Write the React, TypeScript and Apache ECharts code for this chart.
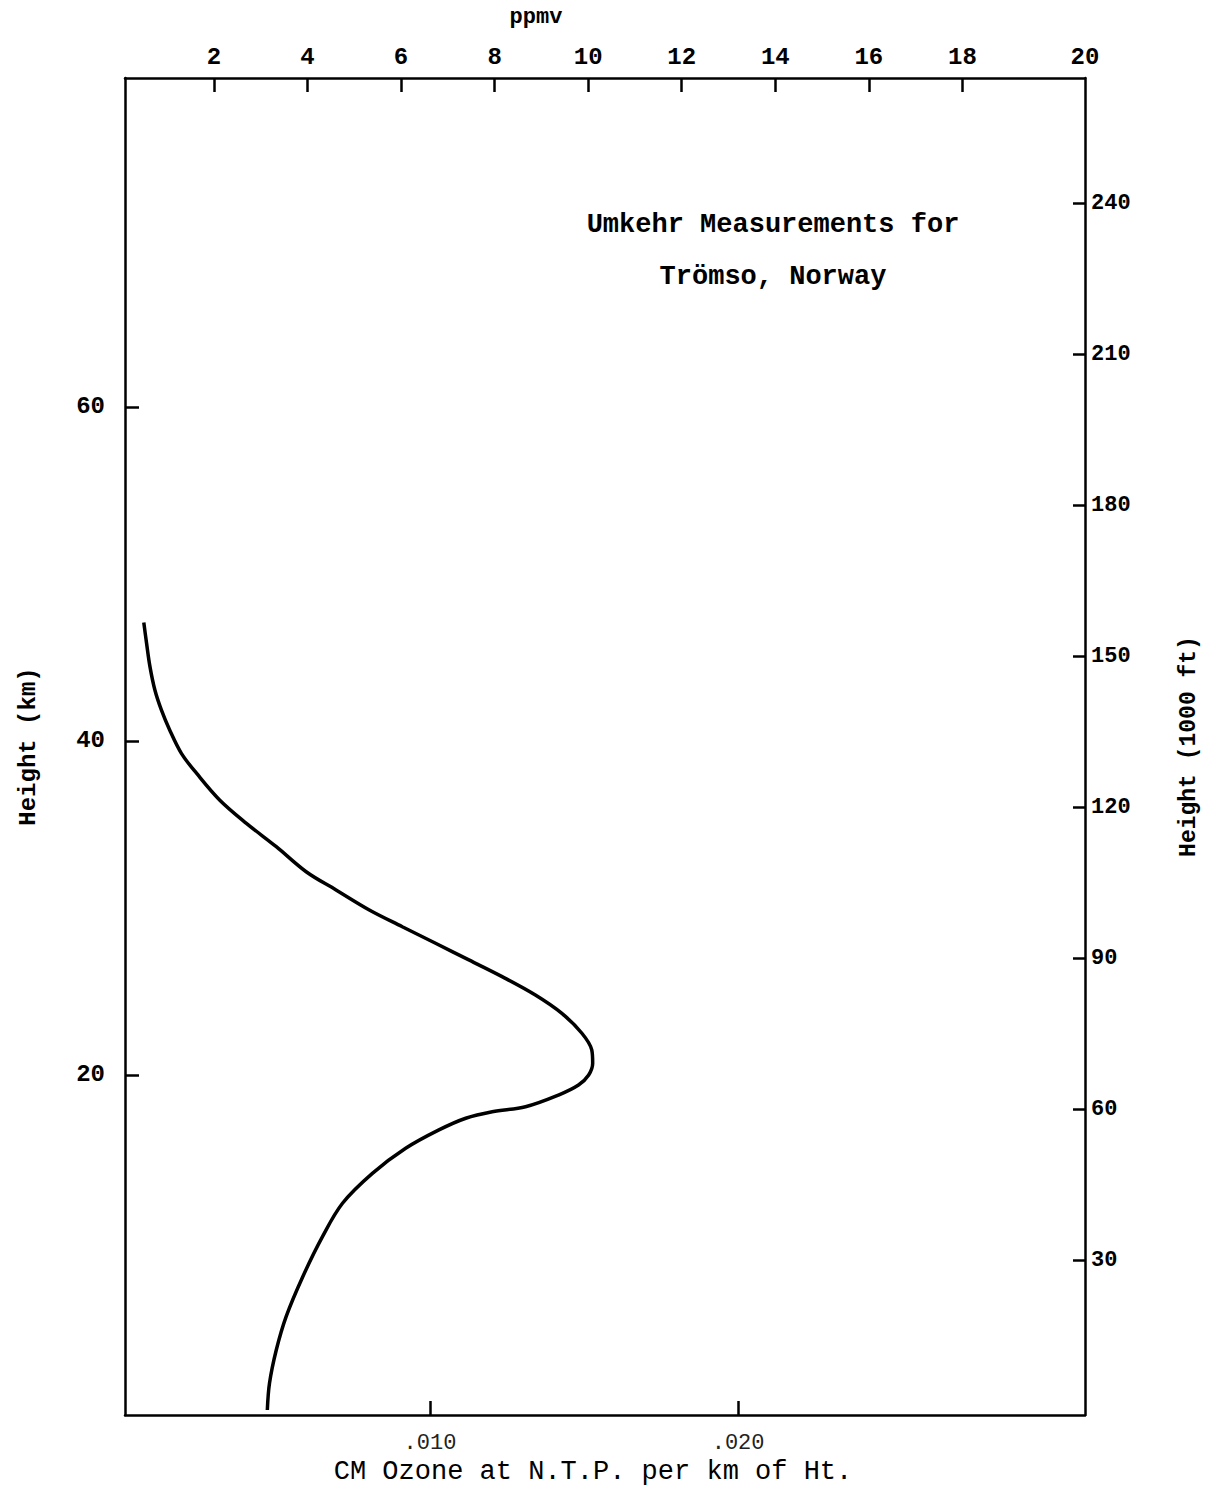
import React, { useEffect, useRef } from "react";
import * as echarts from "echarts";

// Curve: ozone (cm at NTP per km) vs height (km)
const heightKm = [47.1, 45.85, 44.45, 43.05, 41.86, 40.66, 39.26, 38.07, 36.47, 35.07, 33.67, 32.17, 31.08, 29.88, 28.88, 27.89, 26.89, 25.89, 24.79, 23.69, 22.5, 21.5, 20.7, 20.0, 19.4, 18.8, 18.1, 17.8, 17.41, 16.71, 15.61, 14.11, 12.32, 10.32, 7.92, 5.53, 3.53, 1.54, -0.06];
const ozoneCm = [0.00071, 0.0008, 0.00091, 0.00107, 0.00128, 0.00155, 0.00193, 0.00242, 0.00317, 0.00404, 0.00501, 0.00598, 0.00695, 0.00803, 0.0091, 0.01018, 0.01126, 0.01234, 0.01342, 0.01428, 0.01493, 0.01525, 0.01528, 0.01515, 0.01482, 0.01417, 0.0131, 0.01202, 0.01116, 0.01029, 0.00921, 0.00813, 0.00716, 0.00651, 0.00587, 0.00533, 0.00501, 0.00479, 0.00472];

// Tick values and labels
const kmTicks = [20, 40, 60];
const kftTicks = [30, 60, 90, 120, 150, 180, 210, 240];
const ppmvTicks = [2, 4, 6, 8, 10, 12, 14, 16, 18];
const ppmvEndLabel = "20";
const ozoneTicks = [0.01, 0.02];
const ozoneTickLabels = [".010", ".020"];

// Axis ranges
const KM_MIN = -0.36;
const KM_MAX = 79.7;
const KFT_MIN = -0.8;
const KFT_MAX = 264.9;
const OZ_MIN = 0.0001;
const OZ_MAX = 0.03126;
const PPMV_MIN = 0.1;
const PPMV_MAX = 20.62;

const FONT = "Liberation Mono";

export default function App() {
  const ref = useRef<HTMLDivElement>(null);

  useEffect(() => {
    if (!ref.current) return;
    const chart = echarts.init(ref.current, null, { renderer: "svg" });
    const axisLine = { show: true, onZero: false, lineStyle: { color: "#000", width: 2.5 } };
    const tickStyle = { color: "#000", width: 2.5 };
    const labelBase = { color: "#000", fontFamily: FONT, fontWeight: "bold" as const, fontSize: 24 };

    const option: any = {
      animation: false,
      backgroundColor: "#fff",
      title: {
        text: "Umkehr Measurements for\nTrömso, Norway",
        left: 768,
        top: 194,
        textAlign: "center",
        textStyle: {
          color: "#000",
          fontFamily: FONT,
          fontWeight: "bold",
          fontSize: 27,
          lineHeight: 52,
          align: "center",
        },
      },
      grid: { left: 125, right: 120, top: 78, bottom: 86, containLabel: false },
      xAxis: [
        {
          type: "value",
          position: "bottom",
          min: OZ_MIN,
          max: OZ_MAX,
          axisLine,
          axisTick: { show: true, inside: true, length: 14, customValues: ozoneTicks, lineStyle: tickStyle },
          axisLabel: {
            customValues: ozoneTicks,
            margin: 17,
            color: "#222",
            fontFamily: FONT,
            fontSize: 22,
            formatter: (v: number) => {
              let best = 0;
              ozoneTicks.forEach((t, i) => {
                if (Math.abs(t - v) < Math.abs(ozoneTicks[best] - v)) best = i;
              });
              return ozoneTickLabels[best];
            },
          },
          splitLine: { show: false },
          name: "CM Ozone at N.T.P. per km of Ht.",
          nameLocation: "middle",
          nameGap: 42,
          nameTextStyle: { color: "#000", fontFamily: FONT, fontSize: 27, padding: [0, 24, 0, 0] },
        },
        {
          type: "value",
          position: "top",
          min: PPMV_MIN,
          max: PPMV_MAX,
          axisLine,
          axisTick: { show: true, inside: true, length: 14, customValues: ppmvTicks, lineStyle: tickStyle },
          axisLabel: {
            ...labelBase,
            customValues: [...ppmvTicks, PPMV_MAX],
            margin: 9,
            formatter: (v: number) => (v > 19 ? ppmvEndLabel : String(v)),
          },
          splitLine: { show: false },
          name: "ppmv",
          nameLocation: "middle",
          nameGap: 50,
          nameTextStyle: { ...labelBase, fontSize: 22, padding: [0, 138, 0, 0] },
        },
      ],
      yAxis: [
        {
          type: "value",
          position: "left",
          min: KM_MIN,
          max: KM_MAX,
          axisLine,
          axisTick: { show: true, inside: true, length: 14, customValues: kmTicks, lineStyle: tickStyle },
          axisLabel: { ...labelBase, fontSize: 24, customValues: kmTicks, margin: 20 },
          splitLine: { show: false },
          name: "Height (km)",
          nameLocation: "middle",
          nameRotate: 90,
          nameGap: 85,
          nameTextStyle: { ...labelBase, fontSize: 24 },
        },
        {
          type: "value",
          position: "right",
          min: KFT_MIN,
          max: KFT_MAX,
          axisLine,
          axisTick: { show: true, inside: true, length: 12, customValues: kftTicks, lineStyle: tickStyle },
          axisLabel: { ...labelBase, fontSize: 22, customValues: kftTicks, margin: 6 },
          splitLine: { show: false },
          name: "Height (1000 ft)",
          nameLocation: "middle",
          nameRotate: 90,
          nameGap: 92,
          nameTextStyle: { ...labelBase, fontSize: 23 },
        },
      ],
      series: [
        {
          type: "line",
          xAxisIndex: 0,
          yAxisIndex: 0,
          data: ozoneCm.map((o, i) => [o, heightKm[i]]),
          showSymbol: false,
          smooth: 0.35,
          lineStyle: { color: "#000", width: 3.5 },
        },
      ],
    };

    chart.setOption(option);
    return () => chart.dispose();
  }, []);

  return (
    <div
      ref={ref}
      style={{ position: "absolute", left: 0, top: 0, width: 1208, height: 1501, background: "#fff" }}
    />
  );
}
